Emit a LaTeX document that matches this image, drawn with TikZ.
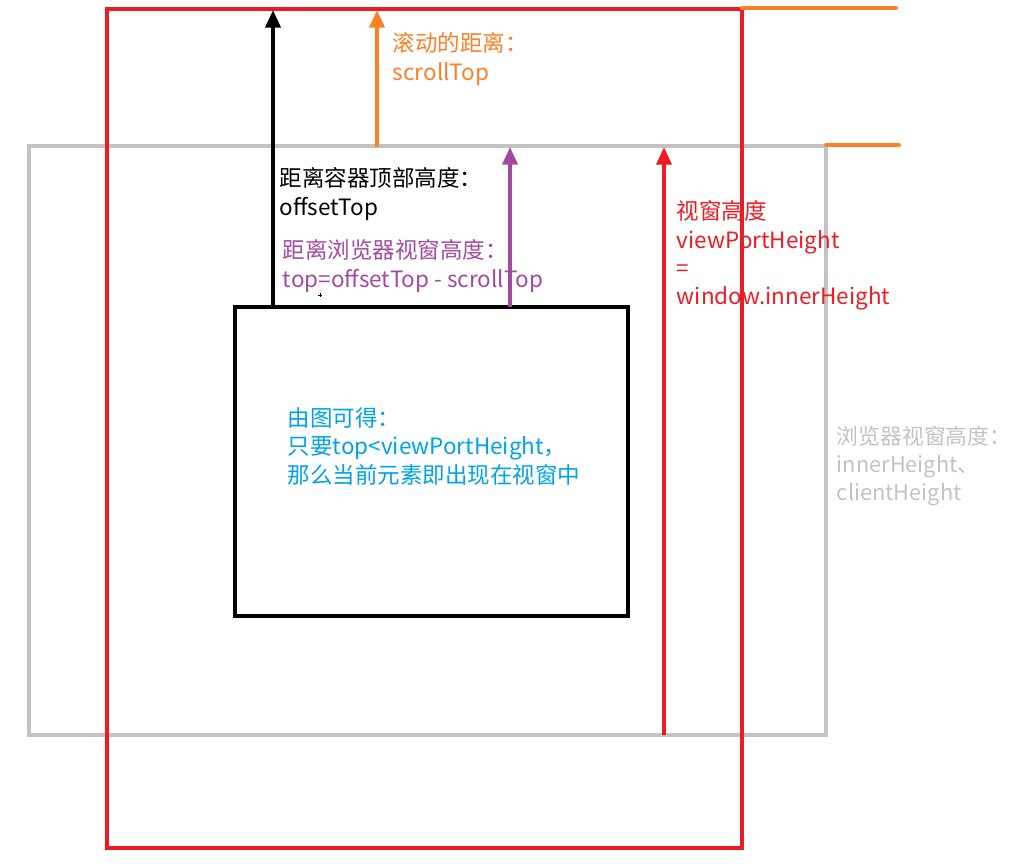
\documentclass[tikz,border=0pt]{standalone}
\usepackage{fontspec}
\setmainfont{Noto Sans CJK SC}
\usetikzlibrary{arrows.meta}
\definecolor{pagered}{HTML}{ED1C24}
\definecolor{scrollorange}{HTML}{FF7F27}
\definecolor{viewgray}{HTML}{C3C3C3}
\definecolor{toppurple}{HTML}{A349A4}
\definecolor{noteblue}{HTML}{00A2E8}
\begin{document}
\begin{tikzpicture}[x=0.02cm, y=-0.02cm, line width=2.2pt,
  >={Triangle[length=10pt,width=8.5pt]},
  lbl/.style={anchor=north west, inner sep=0pt, align=left, font=\fontsize{12.8}{16}\selectfont}]
  \useasboundingbox (0,0) rectangle (1013,866);
  \draw[viewgray] (29,146) rectangle (826,735);
  \draw[pagered] (107,9) rectangle (742,848);
  \draw[scrollorange, line cap=round] (742,8) -- (896,8);
  \draw[scrollorange, line cap=round] (826,145) -- (899,145);
  \draw (235,307) rectangle (628,616);
  \coordinate (pageTop) at (0,10);
  \coordinate (viewTop) at (0,147);
  \coordinate (elemTop) at (0,307);
  \coordinate (viewBottom) at (0,735);
  \draw[->] (elemTop -| 273,0) -- (pageTop -| 273,0);
  \draw[->, scrollorange] (viewTop -| 377,0) -- (pageTop -| 377,0);
  \draw[->, toppurple] (elemTop -| 510,0) -- (viewTop -| 510,0);
  \draw[->, pagered] (viewBottom -| 664,0) -- (viewTop -| 664,0);
  \draw[line width=0.4pt] (318,295) -- (322,295) (320,293) -- (320,297);
  \node[lbl, scrollorange] (scrollLbl) at (391,31) {滚动的距离：\\scrollTop};
  \node[lbl] (offsetLbl) at (278,166) {距离容器顶部高度：\\offsetTop};
  \node[lbl, toppurple] (topLbl) at (281,238) {距离浏览器视窗高度：\\top=offsetTop - scrollTop};
  \node[lbl, pagered] (viewLbl) at (675,199) {视窗高度\\viewPortHeight\\=\\window.innerHeight};
  \node[lbl, viewgray, font=\fontsize{12.4}{16}\selectfont] (innerLbl) at (835,424) {浏览器视窗高度：\\innerHeight、\\clientHeight};
  \node[lbl, noteblue] (noteLbl) at (286,406) {由图可得：\\只要top<viewPortHeight，\\那么当前元素即出现在视窗中};
\end{tikzpicture}
\end{document}
